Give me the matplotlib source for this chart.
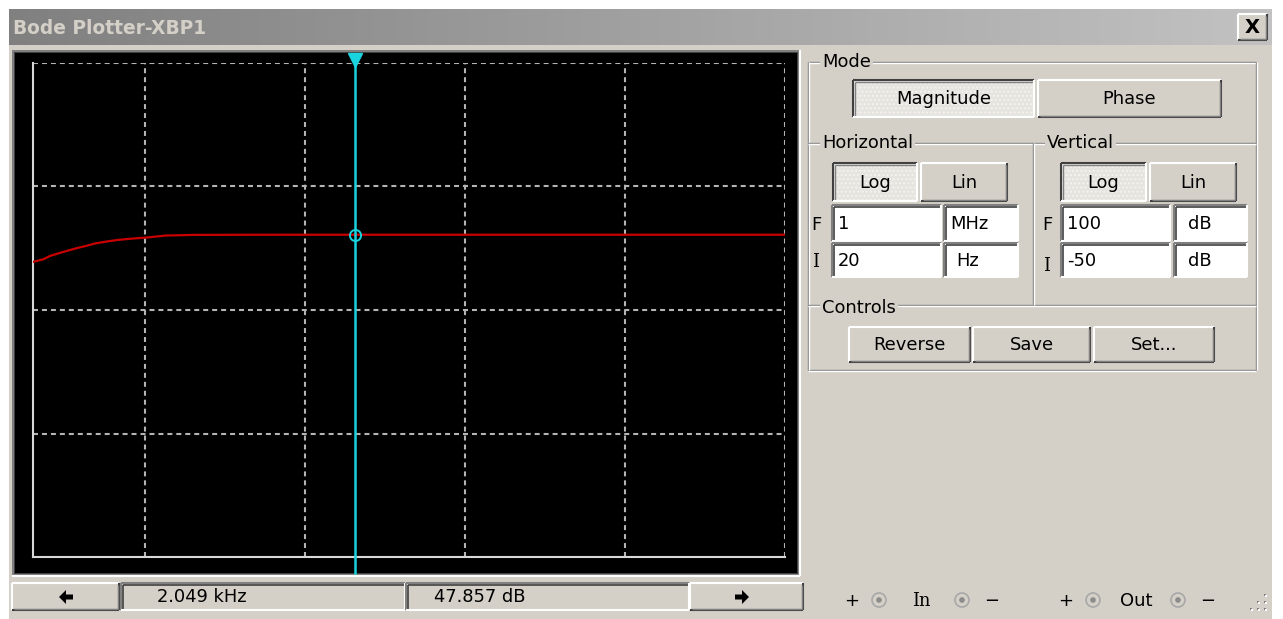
import numpy as np
import matplotlib
matplotlib.use("Agg")
from matplotlib import pyplot as plt
from matplotlib.patches import Rectangle, Circle, Polygon
from matplotlib.colors import LinearSegmentedColormap

plt.rcParams["font.family"] = ["DejaVu Sans"]

# magnitude response (Hz, dB)
freq_hz = [20, 23.2, 25.5, 30.2, 34.0, 38.4, 43.3, 48.8, 57.8, 68.2, 89, 103,
           134, 200, 500, 1000, 2049, 10000, 100000, 1000000]
mag_db = [39.6, 40.4, 41.4, 42.5, 43.2, 43.9, 44.5, 45.2, 45.8, 46.3, 46.8, 47.0,
          47.6, 47.8, 47.85, 47.857, 47.857, 47.857, 47.857, 47.857]

# axis settings shown on the panel
f_init, f_final = 20, 1e6
db_init, db_final = -50, 100
h_grid = [100, 1e3, 1e4, 1e5]
v_grid = [62.5, 25, -12.5]

# cursor readout
cursor_f = 2049.0
cursor_db = 47.857

FACE = "#d4d0c8"
W, H = 1283, 619
FS = 12.9

fig = plt.figure(figsize=(W / 100, H / 100), dpi=100)
fig.patch.set_facecolor("white")
bg = fig.add_axes([0, 0, 1, 1])
bg.axis("off")


def line(xs, ys, c, lw=1.0, **kw):
    bg.plot(xs, ys, color=c, lw=lw, solid_capstyle="butt", **kw)


def button(x0, y0, x1, y1, text, pressed=False):
    if pressed:
        bg.add_patch(Rectangle((x0, y0), x1 - x0, y1 - y0, fc="#e6e4df", ec="none",
                               hatch="....", lw=0))
        bg.patches[-1].set_edgecolor("#f4f3f0")
        line([x0, x1], [y0, y0], "#404040", 1.5)
        line([x0, x0], [y0, y1], "#404040", 1.5)
        line([x0 + 1.5, x1], [y0 + 1.5, y0 + 1.5], "#808080")
        line([x0 + 1.5, x0 + 1.5], [y0 + 1.5, y1], "#808080")
        line([x0, x1], [y1, y1], "white", 1.5)
        line([x1, x1], [y0, y1], "white", 1.5)
    else:
        bg.add_patch(Rectangle((x0, y0), x1 - x0, y1 - y0, fc=FACE, ec="none"))
        line([x0, x1], [y0, y0], "white", 1.5)
        line([x0, x0], [y0, y1], "white", 1.5)
        line([x0, x1], [y1, y1], "#404040", 1.5)
        line([x1, x1], [y0, y1], "#404040", 1.5)
        line([x0 + 1.5, x1 - 1.5], [y1 - 1.5, y1 - 1.5], "#808080")
        line([x1 - 1.5, x1 - 1.5], [y0 + 1.5, y1 - 1.5], "#808080")
    if text:
        bg.text((x0 + x1) / 2, (y0 + y1) / 2 + 1, text, ha="center", va="center",
                fontsize=FS, color="black")


def field(x0, y0, x1, y1, text, fc="white", tx=None):
    bg.add_patch(Rectangle((x0, y0), x1 - x0, y1 - y0, fc=fc, ec="none"))
    line([x0, x1], [y0, y0], "#808080", 1.5)
    line([x0, x0], [y0, y1], "#808080", 1.5)
    line([x0 + 1.5, x1 - 1], [y0 + 1.5, y0 + 1.5], "#404040", 1.2)
    line([x0 + 1.5, x0 + 1.5], [y0 + 1.5, y1 - 1], "#404040", 1.2)
    line([x0, x1], [y1, y1], "white", 1.5)
    line([x1, x1], [y0, y1], "white", 1.5)
    if text:
        bg.text(x0 + 6 if tx is None else tx, (y0 + y1) / 2 + 1, text, ha="left",
                va="center", fontsize=FS, color="black")


def etched_h(x0, x1, y):
    line([x0, x1], [y, y], "#808080")
    line([x0, x1], [y + 1.3, y + 1.3], "white")


def etched_v(x, y0, y1):
    line([x, x], [y0, y1], "#808080")
    line([x + 1.3, x + 1.3], [y0, y1], "white")


def group_label(x, y, text):
    bg.text(x, y, text, ha="left", va="center", fontsize=FS, color="black",
            bbox=dict(fc=FACE, ec="none", pad=1.5))


# window body and title bar
bg.add_patch(Rectangle((9, 9), 1263, H, fc=FACE, ec="none"))
grad = LinearSegmentedColormap.from_list("title", ["#808080", "#c2c2c2"])
bg.imshow(np.linspace(0, 1, 256)[None, :], extent=(9, 1272, 45, 9), cmap=grad,
          aspect="auto", zorder=1)
bg.text(13, 28, "Bode Plotter-XBP1", ha="left", va="center", fontsize=13.4,
        fontweight="bold", color="#d4d0c8", zorder=2)
button(1238, 14, 1267, 40, "")
bg.text(1252.5, 27.5, "X", ha="center", va="center", fontsize=14, fontweight="bold",
        color="black", zorder=3)

# sunken black display
bg.add_patch(Rectangle((12, 50), 788, 526, fc="#808080", ec="none"))
bg.add_patch(Rectangle((14, 52), 784, 522, fc="#404040", ec="none"))
bg.add_patch(Rectangle((15, 53), 782, 520, fc="black", ec="none"))
line([12, 800], [576, 576], "white", 1.5)
line([800, 800], [50, 576], "white", 1.5)

# cursor bar under the display
button(12, 583, 119, 610, "")
field(121, 583, 405, 610, f"{cursor_f / 1000:.3f} kHz", fc=FACE, tx=157)
field(406, 583, 689, 610, f"{cursor_db:.3f} dB", fc=FACE, tx=434)
button(690, 583, 803, 610, "")
bg.add_patch(Polygon([[59, 597], [66, 590], [66, 594.5], [73, 594.5], [73, 599.5],
                      [66, 599.5], [66, 604]], closed=True, fc="black", ec="none"))
bg.add_patch(Polygon([[749, 597], [742, 590], [742, 594.5], [735, 594.5], [735, 599.5],
                      [742, 599.5], [742, 604]], closed=True, fc="black", ec="none"))

# control panel frames
etched_h(808, 1256, 62)
etched_h(808, 1256, 370)
etched_v(808, 62, 370)
etched_v(1256, 62, 370)
etched_h(808, 1256, 143)
etched_h(808, 1256, 305)
etched_v(1033, 143, 305)
group_label(822, 62, "Mode")
group_label(822, 143, "Horizontal")
group_label(1047, 143, "Vertical")
group_label(822, 308, "Controls")

button(853, 80, 1034, 117, "Magnitude", pressed=True)
button(1038, 80, 1221, 117, "Phase")

button(833, 163, 917, 201, "Log", pressed=True)
button(921, 163, 1007, 201, "Lin")
button(1061, 163, 1146, 201, "Log", pressed=True)
button(1150, 163, 1236, 201, "Lin")

bg.text(816, 225, "F", ha="center", va="center", fontsize=FS)
bg.text(816, 262, "I", ha="center", va="center", fontsize=FS, family="DejaVu Serif")
field(832, 205, 941, 241, "1")
field(944, 205, 1018, 241, "MHz", tx=950)
field(832, 243, 941, 277, "20")
field(944, 243, 1018, 277, "Hz", tx=956)

bg.text(1047, 225, "F", ha="center", va="center", fontsize=FS)
bg.text(1047, 266, "I", ha="center", va="center", fontsize=FS, family="DejaVu Serif")
field(1061, 205, 1170, 241, "100")
field(1174, 205, 1247, 241, "dB", tx=1188)
field(1061, 243, 1170, 277, "-50")
field(1174, 243, 1247, 277, "dB", tx=1188)

button(849, 327, 970, 362, "Reverse")
button(973, 327, 1090, 362, "Save")
button(1094, 327, 1214, 362, "Set...")

# terminals
for x, t in [(852, "+"), (921, "In"), (992, "\u2212"), (1066, "+"), (1136, "Out"),
             (1208, "\u2212")]:
    bg.text(x, 601, t, ha="center", va="center", fontsize=FS,
            family="DejaVu Serif" if t == "In" else "DejaVu Sans")
for x in [879, 962, 1093, 1178]:
    bg.add_patch(Circle((x, 600), 7, fc="none", ec="#a8a8a8", lw=1.2))
    bg.add_patch(Circle((x, 600), 2.8, fc="#8c8c8c", ec="none"))
for gx, gy in [(1264, 594), (1264, 601), (1257, 601), (1264, 608), (1257, 608),
               (1250, 608)]:
    bg.add_patch(Rectangle((gx, gy), 2, 2, fc="#808080", ec="none"))
    bg.add_patch(Rectangle((gx + 1, gy + 1), 1.5, 1.5, fc="white", ec="none"))

bg.set_xlim(0, W)
bg.set_ylim(H, 0)

# Bode plot area
ax = fig.add_axes([33 / W, (H - 557) / H, 752 / W, 494 / H])
ax.set_facecolor("black")
ax.set_xscale("log")
ax.set_xlim(f_init, f_final)
ax.set_ylim(db_init, db_final)
ax.tick_params(which="both", length=0, labelbottom=False, labelleft=False)
for s in ["left", "bottom"]:
    ax.spines[s].set_color("#d8d8d8")
    ax.spines[s].set_linewidth(1.5)
for s in ["top", "right"]:
    ax.spines[s].set_visible(False)

grid_kw = dict(color="#b4b4b4", lw=1.5, linestyle=(0, (2.4, 1.9)))
for f in h_grid + [f_final]:
    ax.axvline(f, **grid_kw)
for d in v_grid + [db_final]:
    ax.axhline(d, **grid_kw)

ax.plot(freq_hz, mag_db, color="#c80000", lw=1.6, zorder=3)

cyan = "#19d3df"
ax.axvline(cursor_f, ymin=-0.032, ymax=1.018, color=cyan, lw=1.8, clip_on=False,
           zorder=4)
ax.plot([cursor_f], [1.006], marker="v", ms=10, color=cyan,
        transform=ax.get_xaxis_transform(), clip_on=False, zorder=5)
ax.plot([cursor_f], [cursor_db], marker="o", ms=8, mfc="none", mec=cyan, mew=1.4,
        zorder=5)

fig.savefig("out.png", dpi=100, facecolor=fig.get_facecolor())
